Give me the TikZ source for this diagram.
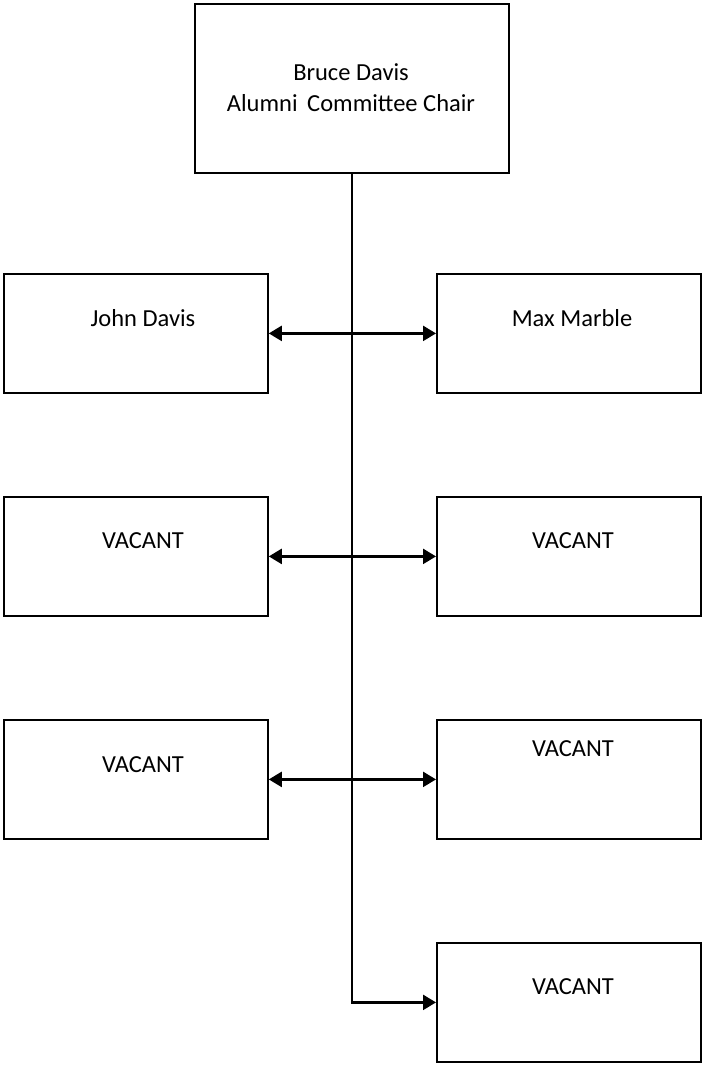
\documentclass[tikz,border=0pt]{standalone}
\usepackage{fontspec}
\setmainfont{Carlito}
\usetikzlibrary{arrows.meta}
\begin{document}
\begin{tikzpicture}[x=1pt,y=-1pt,
  box/.style={draw=black,line width=1.8pt,minimum width=264pt,minimum height=119pt,inner sep=0pt,anchor=north west},
  topbox/.style={draw=black,line width=1.8pt,minimum width=314pt,minimum height=169pt,inner sep=0pt,anchor=north west},
  lbl/.style={font=\fontsize{24.5}{31}\selectfont,inner sep=0pt,align=center},
  conn/.style={line width=2.4pt},
  tip/.style={-{Triangle[length=13pt,width=15pt]}},
  dtip/.style={{Triangle[length=13pt,width=15pt]}-{Triangle[length=13pt,width=15pt]}}]
\useasboundingbox (0,0) rectangle (703,1065);
\node[topbox] (chair) at (194,3) {};
\node[lbl] (chairt) at (351,88) {Bruce Davis\\Alumni\ \,Committee Chair};
\node[box] (l1) at (3,273) {};
\node[box] (r1) at (436,273) {};
\node[box] (l2) at (3,496) {};
\node[box] (r2) at (436,496) {};
\node[box] (l3) at (3,719) {};
\node[box] (r3) at (436,719) {};
\node[box] (r4) at (436,942) {};
\node[lbl] (l1t) at (143,318) {John Davis};
\node[lbl] (r1t) at (572,318) {Max Marble};
\node[lbl] (l2t) at (143,541) {VACANT};
\node[lbl] (r2t) at (573,541) {VACANT};
\node[lbl] (l3t) at (143,765) {VACANT};
\node[lbl] (r3t) at (573,749) {VACANT};
\node[lbl] (r4t) at (573,987) {VACANT};
\coordinate (turn) at (chair.south |- r4.west);
\draw[conn,tip] (chair.south) -- (turn) -- (r4.west);
\draw[conn,dtip] (l1.east) -- (r1.west);
\draw[conn,dtip] (l2.east) -- (r2.west);
\draw[conn,dtip] (l3.east) -- (r3.west);
\end{tikzpicture}
\end{document}
